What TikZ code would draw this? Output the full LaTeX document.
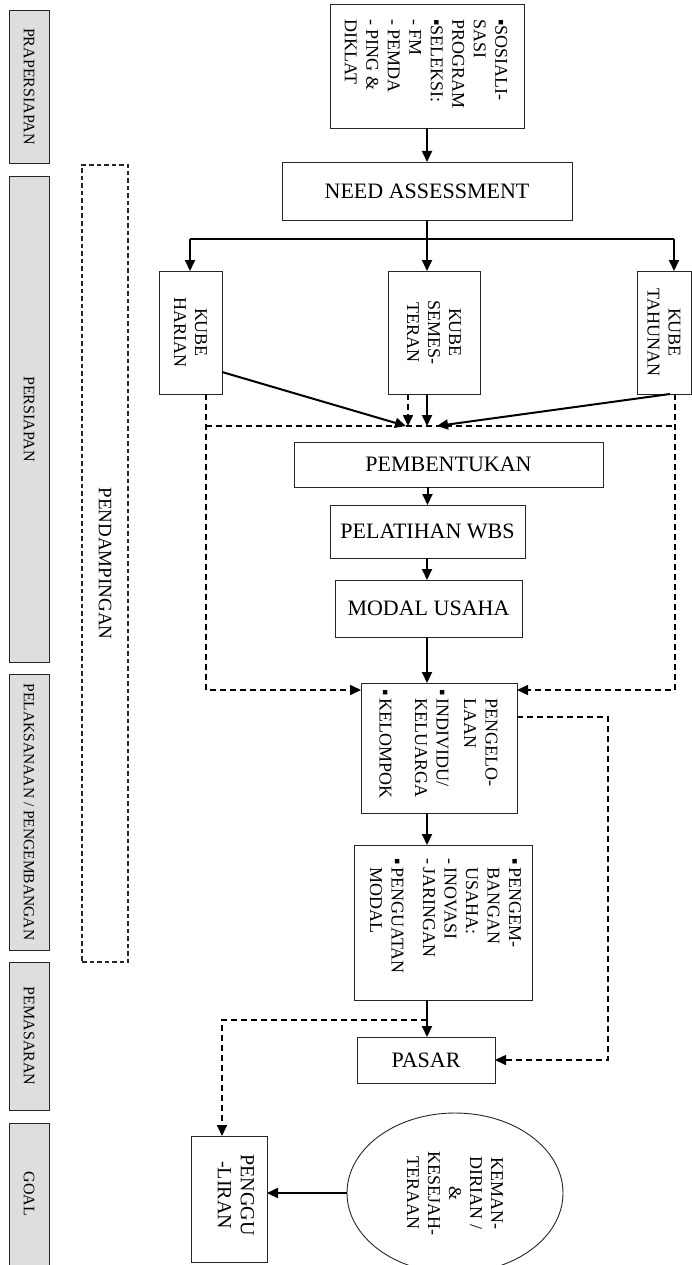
\documentclass[tikz,border=0pt]{standalone}
\usepackage{fontspec}
\setmainfont{Liberation Serif}
\usetikzlibrary{arrows.meta,shapes.geometric}
\begin{document}
\begin{tikzpicture}[x=1pt,y=-1pt,
  box/.style={draw=black!85, line width=0.9pt, fill=white, inner sep=0pt, outer sep=0pt},
  bar/.style={draw=black!85, line width=0.9pt, fill=black!13, inner sep=0pt, outer sep=0pt},
  rtxt/.style={rotate=-90, font=\fontsize{18}{21}\selectfont, align=center, inner sep=0pt},
  ltxt/.style={rotate=-90, font=\fontsize{18}{21.5}\selectfont, align=left, inner sep=0pt},
  btxt/.style={rotate=-90, font=\fontsize{16}{18}\selectfont, inner sep=0pt},
  htxt/.style={font=\fontsize{22}{26}\selectfont, inner sep=0pt},
  arr/.style={line width=2pt, -{Triangle[length=11pt,width=10pt]}},
  darr/.style={line width=1.6pt, dash pattern=on 6pt off 4pt, -{Triangle[length=11pt,width=10pt]}},
  dln/.style={line width=1.6pt, dash pattern=on 6pt off 4pt},
  sln/.style={line width=1.5pt}
]
\useasboundingbox (0,0) rectangle (692,1265);

% left phase bars
\node[bar, minimum width=40pt, minimum height=153pt] (b1) at (29,86.5) {};
\node[btxt] at (b1) {PRAPERSIAPAN};
\node[bar, minimum width=40pt, minimum height=486pt] (b2) at (29,419) {};
\node[btxt] at (b2) {PERSIAPAN};
\node[bar, minimum width=40pt, minimum height=276pt] (b3) at (29,812) {};
\node[btxt, font=\fontsize{15.5}{18}\selectfont] at (b3) {PELAKSANAAN / PENGEMBANGAN};
\node[bar, minimum width=40pt, minimum height=148pt] (b4) at (29,1036) {};
\node[btxt] at (b4) {PEMASARAN};
\node[bar, minimum width=40pt, minimum height=142pt] (b5) at (29,1194) {};
\node[btxt] at (b5) {GOAL};

% pendampingan
\node[draw=black!85, line width=1.3pt, dash pattern=on 4.5pt off 3pt, inner sep=0pt,
      minimum width=46pt, minimum height=797pt] (pdp) at (105,563.5) {};
\node[btxt, font=\fontsize{19}{20}\selectfont] at (pdp) {PENDAMPINGAN};

% top box
\node[box, minimum width=194pt, minimum height=124pt] (sos) at (427,66) {};
\node[ltxt] at (426,64) {▪SOSIALI-\\SASI\\PROGRAM\\▪SELEKSI:\\- FM\\- PEMDA\\- PING \&\\DIKLAT};

\node[box, minimum width=290pt, minimum height=58pt] (na) at (427,191) {};
\node[htxt] at (na) {NEED ASSESSMENT};

% kube boxes
\node[box, minimum width=63pt, minimum height=123pt] (har) at (190.5,332.5) {};
\node[rtxt] at (har) {KUBE\\HARIAN};
\node[box, minimum width=92pt, minimum height=123pt] (sem) at (434,332.5) {};
\node[rtxt] at (sem) {KUBE\\SEMES-\\TERAN};
\node[box, minimum width=54pt, minimum height=123pt] (tah) at (664,332.5) {};
\node[rtxt] at (tah) {KUBE\\TAHUNAN};

% middle chain
\node[box, minimum width=309pt, minimum height=45pt] (pbt) at (448.5,464.5) {};
\node[htxt] at (pbt) {PEMBENTUKAN};
\node[box, minimum width=195pt, minimum height=53pt] (plt) at (427.5,531.5) {};
\node[htxt] at (plt) {PELATIHAN WBS};
\node[box, minimum width=187pt, minimum height=57pt] (mod) at (428.5,608.5) {};
\node[htxt] at (mod) {MODAL USAHA};

\node[box, minimum width=156pt, minimum height=130pt] (pgl) at (439,748) {};
\node[ltxt] at (437,744) {\begin{tabular}{@{}l@{\,}l@{}}& PENGELO-\\ & LAAN\\[6pt] ▪ & INDIVIDU/\\ & KELUARGA\\[14pt] ▪ & KELOMPOK\end{tabular}};

\node[box, minimum width=178pt, minimum height=155pt] (pgb) at (443,922.5) {};
\node[ltxt] at (444,916) {\begin{tabular}{@{}l@{\,}l@{}}▪ & PENGEM-\\ & BANGAN\\ & USAHA:\\ - & INOVASI\\ - & JARINGAN\\[10pt] ▪ & PENGUATAN\\ & MODAL\end{tabular}};

\node[box, minimum width=138pt, minimum height=46pt] (psr) at (426,1060) {};
\node[htxt] at (psr) {PASAR};

\node[box, minimum width=76pt, minimum height=126pt] (gul) at (229,1199) {};
\node[rtxt, font=\fontsize{20}{23}\selectfont] at (236,1195) {PENGGU\\-LIRAN};

\node[draw=black!85, line width=0.9pt, ellipse, inner sep=0pt, outer sep=0pt,
      minimum width=216pt, minimum height=160pt] (ell) at (455,1193) {};
\node[rtxt] at (ell) {KEMAN-\\DIRIAN /\\\&\\KESEJAH-\\TERAAN};

% coordinates
\coordinate (hL) at (190,239);
\coordinate (tR) at (674,239);
\coordinate (m1) at (206,426);
\coordinate (m2) at (675,426);
\coordinate (tipH) at (406,426);
\coordinate (tipD) at (408,426);
\coordinate (tipS) at (427,426);
\coordinate (tipT) at (437,426);
\coordinate (hS) at (222,372);
\coordinate (tS) at (670,394);
\path (pgl.north west) ++(0,7) coordinate (kl);
\path (pgl.north east) ++(0,7) coordinate (kr);
\path (pgl.north east) ++(0,34) coordinate (kr2);
\coordinate (rr1) at (608,717);
\coordinate (pd1) at (427,1020);
\coordinate (pd2) at (222,1020);

% connectors
\draw[arr] (sos.south) -- (na.north);
\draw[arr] (na.south) -- (na.south |- sem.north);
\draw[sln] (hL) -- (tR);
\draw[arr] (hL) -- (hL |- har.north);
\draw[arr] (tR) -- (tR |- tah.north);

\draw[dln] (m1) -- (m2);
\draw[darr] (m1 |- har.south) -- (m1 |- kl) -- (kl);
\draw[darr] (m2 |- tah.south) -- (m2 |- kr) -- (kr);
\draw[arr] (hS) -- (tipH);
\draw[arr] (tS) -- (tipT);
\draw[darr] (tipD |- sem.south) -- (tipD);
\draw[arr] (tipS |- sem.south) -- (tipS);

\draw[arr] (pbt.south -| plt.north) -- (plt.north);
\draw[arr] (plt.south -| 427,0) -- (mod.north -| 427,0);
\draw[arr] (mod.south -| 427,0) -- (pgl.north -| 427,0);
\draw[arr] (pgl.south -| 427,0) -- (pgb.north -| 427,0);
\draw[arr] (pgb.south -| 427,0) -- (psr.north -| 427,0);

\draw[darr] (kr2) -- (rr1) -- (rr1 |- psr.east) -- (psr.east);
\draw[darr] (pd1) -- (pd2) -- (pd2 |- gul.north);
\draw[arr] (ell.west) -- (ell.west -| gul.east);
\end{tikzpicture}
\end{document}
